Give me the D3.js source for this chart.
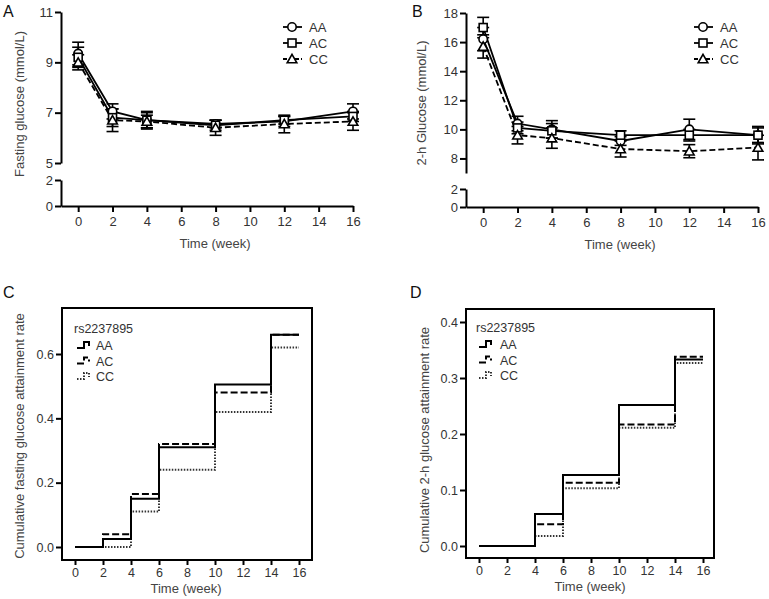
<!DOCTYPE html>
<html><head><meta charset="utf-8">
<script src="https://cdn.jsdelivr.net/npm/d3@7"></script>
<style>body{margin:0;background:#fff} text{font-family:"Liberation Sans",Arial,sans-serif}</style>
</head><body><svg id="c" width="769" height="599"></svg>
<script>
// ---------- data ----------
const weeks = [0, 2, 4, 8, 12, 16];
const groups = ["AA", "AC", "CC"];
const xTicks = [0, 2, 4, 6, 8, 10, 12, 14, 16];

const fastAA = [9.35, 7.05, 6.7, 6.55, 6.65, 7.05];
const fastAC = [9.2, 6.8, 6.7, 6.5, 6.7, 6.85];
const fastCC = [9.0, 6.7, 6.65, 6.4, 6.55, 6.65];
const fastErrAA = [0.45, 0.3, 0.35, 0.15, 0.2, 0.3];
const fastErrAC = [0.4, 0.35, 0.3, 0.2, 0.15, 0.2];
const fastErrCC = [0.3, 0.45, 0.25, 0.3, 0.35, 0.35];
const fastTicksUpper = [5, 7, 9, 11];
const fastTicksLower = [0, 2];

const ohAA = [16.2, 10.4, 10.0, 9.2, 10.0, 9.6];
const ohAC = [17.0, 10.1, 9.9, 9.6, 9.6, 9.6];
const ohCC = [15.7, 9.6, 9.4, 8.65, 8.5, 8.75];
const ohErrAA = [0.8, 0.5, 0.6, 0.3, 0.7, 0.5];
const ohErrAC = [0.7, 0.4, 0.5, 0.3, 0.4, 0.6];
const ohErrCC = [0.8, 0.6, 0.7, 0.55, 0.45, 0.85];
const ohTicksUpper = [8, 10, 12, 14, 16, 18];
const ohTicksLower = [0, 2];

const stepWeeks = [0, 2, 4, 6, 10, 14];
const stepEnd = 16;
const fastRateAA = [0, 0.025, 0.15, 0.31, 0.505, 0.66];
const fastRateAC = [0, 0.04, 0.165, 0.32, 0.48, 0.66];
const fastRateCC = [0, 0, 0.11, 0.24, 0.42, 0.62];
const ohRateAA = [0, 0, 0.057, 0.127, 0.252, 0.333];
const ohRateAC = [0, 0, 0.039, 0.113, 0.217, 0.338];
const ohRateCC = [0, 0, 0.018, 0.103, 0.211, 0.327];
const rateTicksC = [0, 0.2, 0.4, 0.6];
const rateTicksD = [0, 0.1, 0.2, 0.3, 0.4];
const snpName = "rs2237895";

// ---------- drawing ----------
const svg = d3.select("#c");
const TXT = "#333";

function styleAxis(sel, fs) {
  sel.selectAll("path,line").attr("stroke", "#000").attr("stroke-width", 2);
  sel.selectAll("text").attr("fill", TXT).style("font-size", fs + "px")
     .style("font-family", '"Liberation Sans",Arial,sans-serif');
}

function marker(g, kind, cx, cy) {
  if (kind === "AA") {
    g.append("circle").attr("cx", cx).attr("cy", cy).attr("r", 4.2)
      .attr("fill", "#fff").attr("stroke", "#000").attr("stroke-width", 1.6);
  } else if (kind === "AC") {
    g.append("rect").attr("x", cx - 4).attr("y", cy - 4).attr("width", 8).attr("height", 8)
      .attr("fill", "#fff").attr("stroke", "#000").attr("stroke-width", 1.6);
  } else {
    g.append("path").attr("d", d3.symbol().type(d3.symbolTriangle).size(40)())
      .attr("transform", `translate(${cx},${cy + 1})`)
      .attr("fill", "#fff").attr("stroke", "#000").attr("stroke-width", 1.6);
  }
}

function linePanel(o) {
  const g = svg.append("g");
  const x = d3.scaleLinear().domain([-1, 16]).range([o.x0, o.x1]);
  const yU = d3.scaleLinear().domain([o.upTicks[0] - (o.upPad || 0), o.upTicks[o.upTicks.length - 1]]).range([o.upBot, o.upTop]);
  const yL = d3.scaleLinear().domain([0, 2]).range([o.loBot, o.loTop]);

  const ax = g.append("g").attr("transform", `translate(0,${o.loBot})`)
    .call(d3.axisBottom(x).tickValues(xTicks).tickFormat(d3.format("d")).tickSize(6).tickSizeOuter(0).tickPadding(5));
  styleAxis(ax, 13);
  const au = g.append("g").attr("transform", `translate(${o.x0},0)`)
    .call(d3.axisLeft(yU).tickValues(o.upTicks).tickFormat(d3.format("d")).tickSize(6).tickSizeOuter(0).tickPadding(2));
  styleAxis(au, 13);
  const al = g.append("g").attr("transform", `translate(${o.x0},0)`)
    .call(d3.axisLeft(yL).tickValues(o.loTicks).tickFormat(d3.format("d")).tickSize(6).tickSizeOuter(0).tickPadding(2));
  styleAxis(al, 13);

  g.append("text").attr("x", (o.x0 + o.x1) / 2 + 8).attr("y", o.loBot + 42)
    .attr("text-anchor", "middle").attr("fill", "#444").style("font-size", "13px").text("Time (week)");
  g.append("text").attr("transform", `translate(${o.ytx},${o.yty}) rotate(-90)`)
    .attr("text-anchor", "middle").attr("fill", "#444").style("font-size", "13px").text(o.ytitle);
  g.append("text").attr("x", o.lx).attr("y", o.ly).attr("fill", "#111")
    .style("font-size", "16px").text(o.letter);

  o.series.forEach((s, si) => {
    const name = groups[si];
    const pts = weeks.map((w, i) => [x(w), yU(s.v[i]), yU(s.v[i] + s.e[i]), yU(s.v[i] - s.e[i])]);
    const gs = g.append("g");
    pts.forEach(p => {
      gs.append("line").attr("x1", p[0]).attr("x2", p[0]).attr("y1", p[2]).attr("y2", p[3])
        .attr("stroke", "#000").attr("stroke-width", 1.6);
      [p[2], p[3]].forEach(yy => gs.append("line").attr("x1", p[0] - 6).attr("x2", p[0] + 6)
        .attr("y1", yy).attr("y2", yy).attr("stroke", "#000").attr("stroke-width", 1.6));
    });
    gs.append("path").attr("d", d3.line()(pts.map(p => [p[0], p[1]])))
      .attr("fill", "none").attr("stroke", "#000").attr("stroke-width", 1.8)
      .attr("stroke-dasharray", name === "CC" ? "6,3" : null);
  });
  o.series.forEach((s, si) => {
    weeks.forEach((w, i) => marker(g, groups[si], x(w), yU(s.v[i])));
  });

  groups.forEach((name, i) => {
    const cy = o.legY + i * 16;
    g.append("line").attr("x1", o.legX).attr("x2", o.legX + 19).attr("y1", cy).attr("y2", cy)
      .attr("stroke", "#000").attr("stroke-width", 1.8)
      .attr("stroke-dasharray", name === "CC" ? "4,2" : null);
    marker(g, name, o.legX + 9, cy);
    g.append("text").attr("x", o.legX + 26).attr("y", cy + 5).attr("fill", TXT)
      .style("font-size", "13px").text(name);
  });
}

function stepPanel(o) {
  const g = svg.append("g");
  const x = d3.scaleLinear().domain([0, 16]).range([o.xa, o.xb]);
  const y = d3.scaleLinear().domain([0, o.ticks[o.ticks.length - 1]]).range([o.y0, o.yt]);

  const ax = g.append("g").attr("transform", `translate(0,${o.by1})`)
    .call(d3.axisBottom(x).tickValues(xTicks).tickSize(5).tickSizeOuter(0).tickPadding(3));
  ax.select(".domain").remove();
  styleAxis(ax, 12.5);
  const ay = g.append("g").attr("transform", `translate(${o.bx0},0)`)
    .call(d3.axisLeft(y).tickValues(o.ticks).tickFormat(d3.format(".1f")).tickSize(6).tickSizeOuter(0).tickPadding(2));
  ay.select(".domain").remove();
  styleAxis(ay, 12.5);

  g.append("rect").attr("x", o.bx0).attr("y", o.by0).attr("width", o.bx1 - o.bx0).attr("height", o.by1 - o.by0)
    .attr("fill", "none").attr("stroke", "#000").attr("stroke-width", 2);

  const styles = [{ d: null, w: 2 }, { d: "7,3", w: 2 }, { d: "1.5,1.5", w: 2 }];
  [o.series[2], o.series[1], o.series[0]].forEach((vals, k) => {
    const si = 2 - k;
    const pts = stepWeeks.map((w, i) => [x(w), y(vals[i])]);
    pts.push([x(stepEnd), y(vals[vals.length - 1])]);
    g.append("path").attr("d", d3.line().curve(d3.curveStepAfter)(pts))
      .attr("fill", "none").attr("stroke", si === 2 ? "#333" : "#000").attr("stroke-width", styles[si].w)
      .attr("stroke-dasharray", styles[si].d);
  });

  g.append("text").attr("x", (o.xa + o.xb) / 2 - 1).attr("y", o.by1 + 33)
    .attr("text-anchor", "middle").attr("fill", "#444").style("font-size", "13px").text("Time (week)");
  g.append("text").attr("transform", `translate(${o.ytx},${o.yty}) rotate(-90)`)
    .attr("text-anchor", "middle").attr("fill", "#444").style("font-size", "13px").text(o.ytitle);
  g.append("text").attr("x", o.lx).attr("y", o.ly).attr("fill", "#111")
    .style("font-size", "16px").text(o.letter);

  g.append("text").attr("x", o.legX - 3).attr("y", o.legY - 12).attr("fill", TXT)
    .style("font-size", "12.5px").text(snpName);
  groups.forEach((name, i) => {
    const cy = o.legY + i * 15.5;
    g.append("path").attr("d", `M${o.legX},${cy + 3}H${o.legX + 7}V${cy - 3}H${o.legX + 12}V${cy + 1}`)
      .attr("fill", "none").attr("stroke", i === 2 ? "#333" : "#000").attr("stroke-width", 2)
      .attr("stroke-dasharray", styles[i].d);
    g.append("text").attr("x", o.legX + o.legT).attr("y", cy + 5).attr("fill", TXT)
      .style("font-size", "12.5px").text(name);
  });
}

linePanel({
  x0: 61, x1: 353, upTicks: fastTicksUpper, upBot: 163, upTop: 12, loTicks: fastTicksLower, loBot: 206, loTop: 180,
  series: [{ v: fastAA, e: fastErrAA }, { v: fastAC, e: fastErrAC }, { v: fastCC, e: fastErrCC }],
  ytitle: "Fasting glucose (mmol/L)", ytx: 24, yty: 104, letter: "A", lx: 3, ly: 17,
  legX: 283, legY: 27
});
linePanel({
  x0: 466, x1: 758, upTicks: ohTicksUpper, upPad: 1, upBot: 173, upTop: 13, loTicks: ohTicksLower, loBot: 207, loTop: 189,
  series: [{ v: ohAA, e: ohErrAA }, { v: ohAC, e: ohErrAC }, { v: ohCC, e: ohErrCC }],
  ytitle: "2-h Glucose (mmol/L)", ytx: 426, yty: 103, letter: "B", lx: 412, ly: 17,
  legX: 694, legY: 27
});
stepPanel({
  bx0: 62, bx1: 312, by0: 308, by1: 560, xa: 75, xb: 299, y0: 547, yt: 354, ticks: rateTicksC,
  series: [fastRateAA, fastRateAC, fastRateCC],
  ytitle: "Cumulative fasting glucose attainment rate", ytx: 24, yty: 436, letter: "C", lx: 3, ly: 298,
  legX: 77, legY: 345, legT: 19
});
stepPanel({
  bx0: 466, bx1: 714, by0: 309, by1: 558, xa: 479, xb: 703, y0: 546, yt: 322, ticks: rateTicksD,
  series: [ohRateAA, ohRateAC, ohRateCC],
  ytitle: "Cumulative 2-h glucose attainment rate", ytx: 429, yty: 440, letter: "D", lx: 410, ly: 298,
  legX: 479, legY: 344, legT: 21
});
</script></body></html>
